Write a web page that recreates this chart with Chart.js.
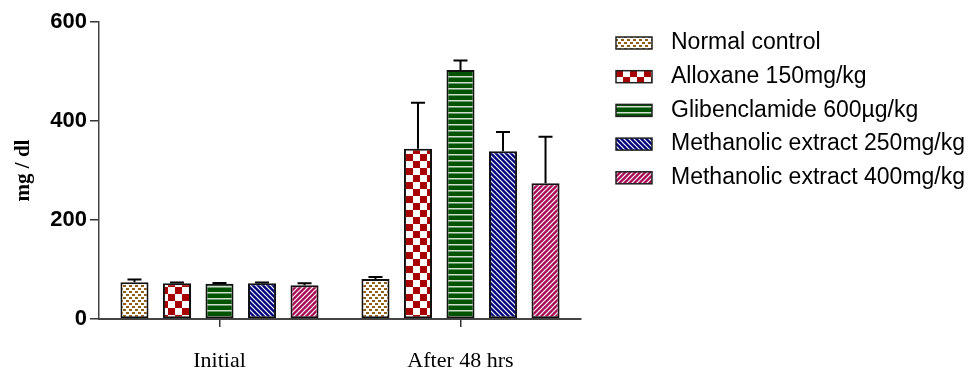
<!DOCTYPE html>
<html>
<head>
<meta charset="utf-8">
<script src="https://cdn.jsdelivr.net/npm/chart.js@4.4.1/dist/chart.umd.min.js"></script>
<style>
    body { margin: 0; background: #fff; }
</style>
</head>
<body>
<canvas id="glucoseChart" width="971" height="370"></canvas>
<script>
// groupes et séries
const groups = ["Initial", "After 48 hrs"];
const seriesNames = [
    "Normal control",
    "Alloxane 150mg/kg",
    "Glibenclamide 600µg/kg",
    "Methanolic extract 250mg/kg",
    "Methanolic extract 400mg/kg"
];
// moyennes (mg / dl)
const normalControl = [74, 81];
const alloxane = [72, 344];
const glibenclamide = [71, 503];
const extract250 = [72, 339];
const extract400 = [68, 274];
// écarts (barre d'erreur supérieure)
const normalControlErr = [6, 4];
const alloxaneErr = [1.5, 93];
const glibenclamideErr = [1.5, 19];
const extract250Err = [1.5, 39];
const extract400Err = [4, 94];
const yTicks = [0, 200, 400, 600];

const canvas = document.getElementById("glucoseChart");
const ctx = canvas.getContext("2d");

function tile(size, draw) {
    let c = document.createElement("canvas");
    c.width = size;
    c.height = size;
    draw(c.getContext("2d"), size);
    return ctx.createPattern(c, "repeat");
}

function stripes(base, size, width, back) {
    return tile(size, function (g, s) {
        g.fillStyle = base;
        g.fillRect(0, 0, s, s);
        g.strokeStyle = "#fff";
        g.lineWidth = width;
        for (let k = -1; k <= 1; k++) {
            g.beginPath();
            if (back) {
                g.moveTo(k * s - 1, -1);
                g.lineTo(k * s + s + 1, s + 1);
            } else {
                g.moveTo(k * s - 1, s + 1);
                g.lineTo(k * s + s + 1, -1);
            }
            g.stroke();
        }
    });
}

const dotted = tile(6, function (g, s) {
    g.fillStyle = "#fff";
    g.fillRect(0, 0, s, s);
    g.fillStyle = "#8f5f1a";
    g.fillRect(0, 0, 3, 2);
    g.fillRect(3, 3, 3, 2);
});
const checker = tile(14, function (g, s) {
    g.fillStyle = "#fff";
    g.fillRect(0, 0, s, s);
    g.fillStyle = "#a80000";
    g.fillRect(0, 0, 7, 7);
    g.fillRect(7, 7, 7, 7);
});
const lined = tile(6, function (g, s) {
    g.fillStyle = "#005400";
    g.fillRect(0, 0, s, s);
    g.fillStyle = "#d0ddd0";
    g.fillRect(0, 4, s, 1.5);
});
const blueStripes = stripes("#00007a", 5, 1.2, true);
const pinkStripes = stripes("#a80c56", 5, 1.2, false);

const values = [normalControl, alloxane, glibenclamide, extract250, extract400];
const errors = [normalControlErr, alloxaneErr, glibenclamideErr, extract250Err, extract400Err];
const fills = [dotted, checker, lined, blueStripes, pinkStripes];

const errorBars = {
    id: "errorBars",
    afterDatasetsDraw(chart) {
        let c = chart.ctx;
        let y = chart.scales.y;
        c.save();
        c.strokeStyle = "#000";
        c.lineWidth = 2;
        chart.data.datasets.forEach(function (ds, i) {
            chart.getDatasetMeta(i).data.forEach(function (bar, j) {
                let top = y.getPixelForValue(ds.data[j] + errors[i][j]);
                c.beginPath();
                c.moveTo(bar.x, bar.y);
                c.lineTo(bar.x, top);
                c.moveTo(bar.x - 7, top);
                c.lineTo(bar.x + 7, top);
                c.stroke();
            });
        });
        c.restore();
    }
};

const sideLegend = {
    id: "sideLegend",
    afterDraw(chart) {
        let c = chart.ctx;
        chart.data.datasets.forEach(function (ds, i) {
            let cy = 43 + i * 33.7;
            c.save();
            c.fillStyle = ds.backgroundColor;
            c.fillRect(616, cy - 6, 36, 12);
            c.strokeStyle = "#222";
            c.lineWidth = 1.5;
            c.strokeRect(616, cy - 6, 36, 12);
            c.fillStyle = "#000";
            c.font = "23px 'Liberation Sans', Arial, sans-serif";
            c.textBaseline = "middle";
            c.fillText(ds.label, 671, cy);
            c.restore();
        });
    }
};

new Chart(canvas, {
    type: "bar",
    data: {
        labels: groups,
        datasets: seriesNames.map(function (name, i) {
            return {
                label: name,
                data: values[i],
                backgroundColor: fills[i],
                borderColor: "#111",
                borderWidth: 2,
                borderSkipped: false,
                categoryPercentage: 0.882,
                barPercentage: 0.66
            };
        })
    },
    options: {
        responsive: false,
        animation: false,
        layout: { padding: { top: 22, right: 390, left: 0, bottom: 0 } },
        plugins: {
            legend: { display: false },
            tooltip: { enabled: false }
        },
        scales: {
            x: {
                grid: { display: true, drawOnChartArea: false, offset: false, tickLength: 8, color: "#333", lineWidth: 1.5 },
                border: { color: "#444", width: 2 },
                ticks: {
                    color: "#000",
                    padding: 21,
                    font: { family: "'Liberation Serif', 'Times New Roman', serif", size: 22 }
                },
                afterFit(scale) { scale.height = 51; }
            },
            y: {
                min: 0,
                max: 600,
                afterBuildTicks(scale) { scale.ticks = yTicks.map(function (v) { return { value: v }; }); },
                grid: { display: true, drawOnChartArea: false, tickLength: 9, color: "#333", lineWidth: 1.5 },
                border: { color: "#444", width: 1.5 },
                ticks: {
                    color: "#000",
                    padding: 3,
                    font: { family: "'Liberation Sans', Arial, sans-serif", size: 22, weight: "bold" }
                },
                title: {
                    display: true,
                    text: "mg / dl",
                    color: "#000",
                    padding: { top: 11, bottom: 0 },
                    font: { family: "'Liberation Serif', 'Times New Roman', serif", size: 21, weight: "bold" }
                },
                afterFit(scale) { scale.width = 99; }
            }
        }
    },
    plugins: [errorBars, sideLegend]
});
</script>
</body>
</html>
